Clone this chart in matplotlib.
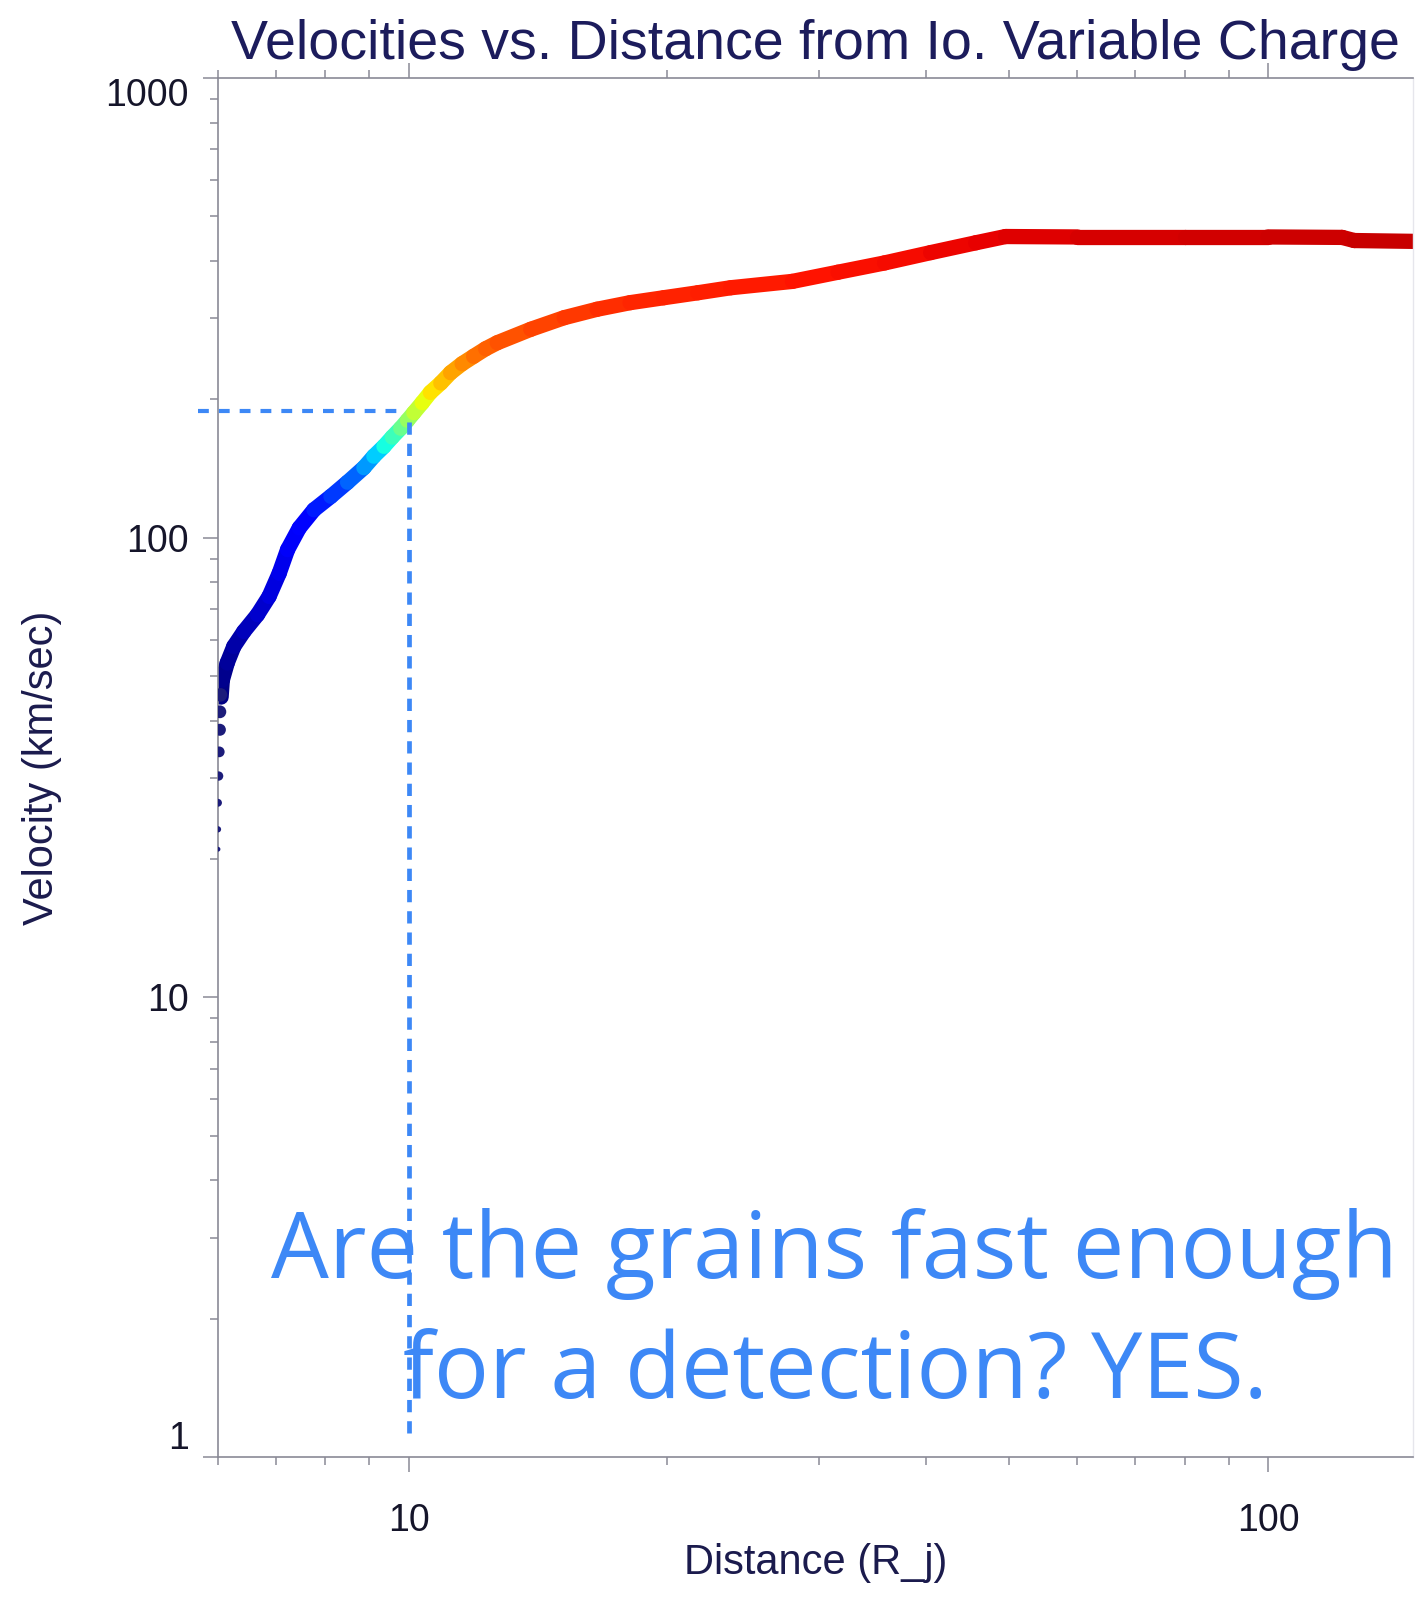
import numpy as np
import matplotlib.pyplot as plt
from matplotlib.collections import LineCollection
from matplotlib.ticker import FuncFormatter, NullFormatter, LogLocator

plt.rcParams['font.family'] = ['Liberation Sans', 'DejaVu Sans']

# grain path: distance (R_j), velocity (km/s)
distance = [6.05, 6.07, 6.15, 6.26, 6.43, 6.67, 6.88, 7.07, 7.23, 7.46, 7.76, 8.12,
            8.49, 8.87, 9.11, 9.36, 9.57, 9.79, 9.97, 10.14, 10.37, 10.6, 10.9, 11.19,
            11.54, 11.9, 12.29, 12.68, 13.87, 15.17, 16.57, 18.1, 19.8, 21.7, 23.7,
            27.96, 31.6, 35.8, 40.5, 45.7, 49.5, 60, 80, 100, 122, 126, 150]
velocity = [45, 49, 53.4, 58, 62.5, 68, 74.5, 83.7, 94.2, 105, 115, 123,
            132, 142, 150.4, 158, 165.5, 173, 180, 187, 196.6, 207, 217, 228.5,
            239, 248, 257.6, 265.5, 284, 301, 314, 324.5, 332.6, 341, 349.7,
            361, 378, 396, 417, 438, 452, 451, 451, 451, 450, 443, 441]
# colour-coded quantity along the path (position on the jet scale)
shade = [0.0, 0.01, 0.02, 0.03, 0.045, 0.06, 0.075, 0.09, 0.1, 0.115, 0.135, 0.165,
         0.2, 0.25, 0.3, 0.35, 0.4, 0.45, 0.51, 0.56, 0.61, 0.65, 0.69, 0.72,
         0.75, 0.78, 0.80, 0.815, 0.83, 0.845, 0.855, 0.865, 0.87, 0.875, 0.88,
         0.885, 0.89, 0.895, 0.9, 0.905, 0.91, 0.925, 0.925, 0.93, 0.93, 0.935, 0.935]

# first sparse dots near the launch point
dot_distance = [6.0, 6.0, 6.0, 6.01, 6.02, 6.03, 6.03, 6.04]
dot_velocity = [21, 23.2, 26.5, 30.3, 34.2, 38.2, 41.8, 45.5]

# guide lines
guide_x = 10
guide_v = 189

fig = plt.figure(figsize=(14.21, 15.99), dpi=100)
ax = fig.add_axes([218 / 1421, 142 / 1599, (1413 - 218) / 1421, (1457 - 78) / 1599])
ax.set_xscale('log')
ax.set_yscale('log')
ax.set_xlim(6.0, 147.5)
ax.set_ylim(1, 1000)

pts = np.column_stack([distance, velocity])
segs = np.stack([pts[:-1], pts[1:]], axis=1)
seg_shade = (np.array(shade[:-1]) + np.array(shade[1:])) / 2
lc = LineCollection(segs, cmap='jet', linewidths=11, capstyle='round', joinstyle='round')
lc.set_array(seg_shade)
lc.set_clim(0, 1)
ax.add_collection(lc)

sizes = [12, 20, 32, 45, 60, 75, 85, 95]
ax.scatter(dot_distance, dot_velocity, s=sizes, color='#1c1c7a', zorder=3, linewidths=0)

blue = '#3d88f6'
ax.plot([5.68, 9.73], [guide_v, guide_v], color=blue, lw=3.0, dashes=(2.6, 2.4), clip_on=False, zorder=4)
ax.plot([guide_x, guide_x], [1.13, 179], color=blue, lw=3.4, dashes=(2.6, 1.9), zorder=4)

# axes styling
spine_c = '#8a8a96'
for s in ['left', 'bottom', 'top']:
    ax.spines[s].set_color(spine_c)
    ax.spines[s].set_linewidth(1.2)
ax.spines['right'].set_color('#e6e6ec')
ax.spines['right'].set_linewidth(1.0)

ax.xaxis.set_minor_locator(LogLocator(base=10, subs=np.arange(2, 10)))
ax.yaxis.set_minor_locator(LogLocator(base=10, subs=np.arange(2, 10)))
fmt = FuncFormatter(lambda v, p: f'{v:g}')
ax.xaxis.set_major_formatter(fmt)
ax.yaxis.set_major_formatter(fmt)
ax.xaxis.set_minor_formatter(NullFormatter())
ax.yaxis.set_minor_formatter(NullFormatter())
ax.set_yticks([1, 10, 100, 1000])
ax.set_xticks([10, 100])

ax.tick_params(which='both', direction='out', top=True, right=False, color=spine_c,
               labelcolor='#15152a', width=1.1)
ax.tick_params(which='major', length=11, labelsize=27)
ax.tick_params(which='minor', length=6)
ax.tick_params(axis='y', pad=10)
ax.tick_params(axis='x', pad=22)

yt = ax.yaxis.get_major_ticks()
yt[0].label1.set_va('bottom')
yt[-1].label1.set_va('top')

ax.set_xlabel('Distance (R_j)', fontsize=30, color='#1b1b4d', labelpad=3)
ax.set_ylabel('Velocity (km/sec)', fontsize=30, color='#1b1b4d', labelpad=31)
ax.set_title('Velocities vs. Distance from Io. Variable Charge', fontsize=40,
             color='#1c1c5c', y=1.0, pad=14)

fig.text(834 / 1421, (1599 - 1278) / 1599, 'Are the grains fast enough', ha='center',
         va='baseline', fontsize=66, color=blue, family='Open Sans', fontweight='medium')
fig.text(835 / 1421, (1599 - 1397.6) / 1599, 'for a detection? YES.', ha='center',
         va='baseline', fontsize=66, color=blue, family='Open Sans', fontweight='medium')

fig.savefig('out.png', dpi=100)
